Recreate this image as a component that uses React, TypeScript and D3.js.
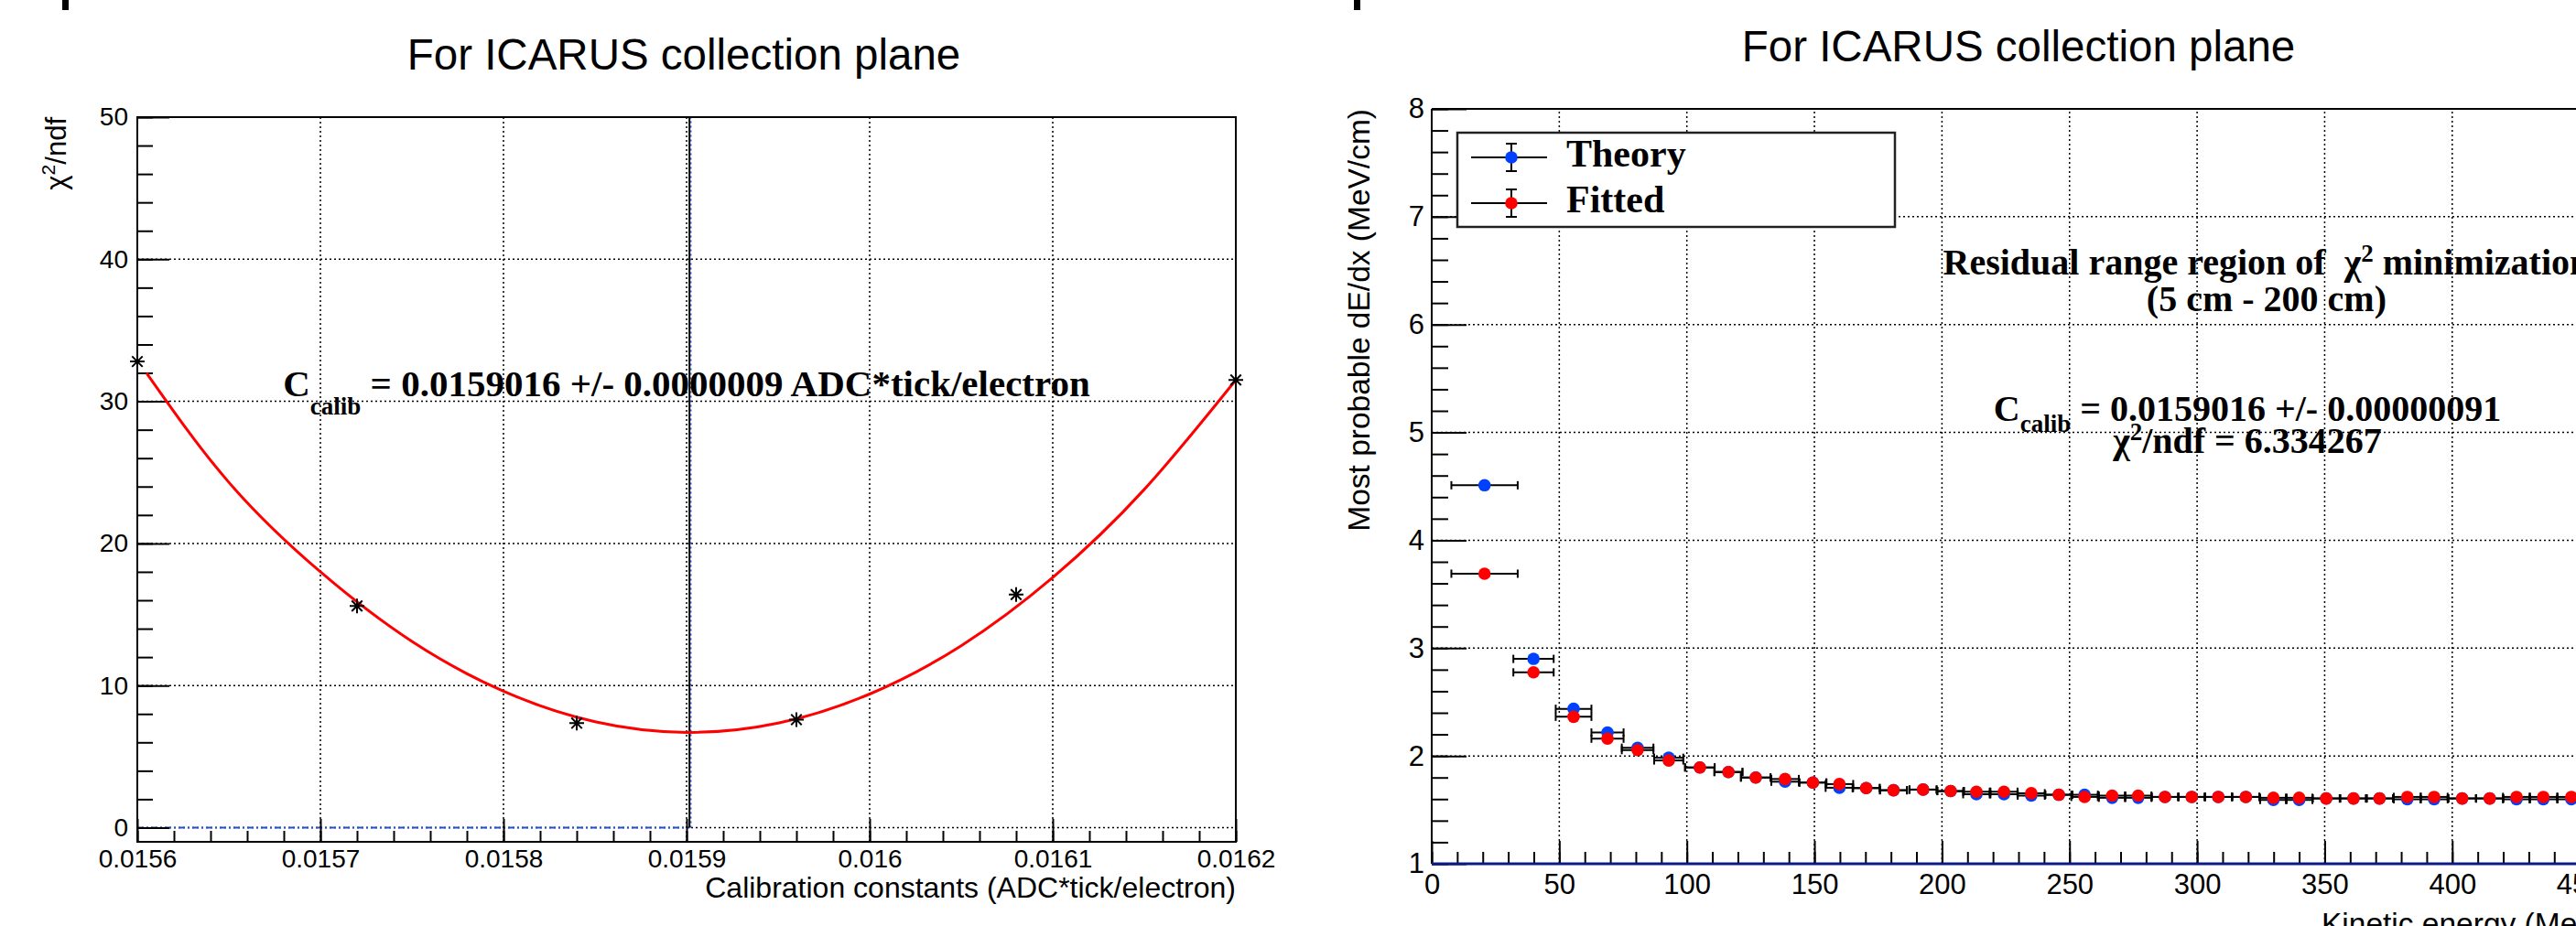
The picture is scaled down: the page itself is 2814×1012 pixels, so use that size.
import React, { useEffect, useRef } from 'react';
import * as d3 from 'd3';

const W = 2814;
const H = 1012;
const SANS = '"Liberation Sans", Arial, Helvetica, sans-serif';
const SERIF = '"Liberation Serif", "Times New Roman", serif';

// ---- left panel: chi2/ndf scan over calibration constant ----
const calibConsts = [0.0156, 0.01572, 0.01584, 0.01596, 0.01608, 0.0162];
const chi2Values = [32.8, 15.6, 7.35, 7.6, 16.4, 31.5];
// red fit curve
const fitX = [0.015605, 0.01565, 0.0157, 0.01575, 0.0158, 0.01585, 0.0159, 0.01595, 0.016, 0.01605, 0.0161, 0.01615, 0.0162];
const fitY = [32.0, 24.3, 18.0, 13.1, 9.6, 7.45, 6.7, 7.35, 9.4, 12.8, 17.6, 23.8, 31.5];
const bestCalib = 0.0159016;
const leftXTicks = [0.0156, 0.0157, 0.0158, 0.0159, 0.016, 0.0161, 0.0162];
const leftXLabels = ['0.0156', '0.0157', '0.0158', '0.0159', '0.016', '0.0161', '0.0162'];
const leftYTicks = [0, 10, 20, 30, 40, 50];

// ---- right panel: most probable dE/dx vs kinetic energy ----
const kineticEnergy = [20.7, 39.9, 55.6, 68.9, 80.7, 92.9, 105.1, 116.3, 127.0, 138.5, 149.4, 159.8, 170.3, 181.0,
  192.6, 203.4, 213.5, 224.3, 235.0, 245.8, 255.9, 266.7, 276.9, 287.4, 297.9, 308.3, 319.1, 329.9, 340.0,
  350.6, 361.3, 371.5, 382.4, 392.9, 403.9, 414.7, 425.2, 435.7, 446.7];
const energyErr = [13.0, 7.9, 7.0, 6.3, 6.2, 5.7, 5.8, 5.5, 5.8, 5.4, 5.3, 5.4, 5.3, 5.3,
  5.3, 5.2, 5.2, 5.3, 5.3, 5.3, 5.2, 5.2, 5.2, 5.2, 5.2, 5.3, 5.3, 5.2, 5.2,
  5.3, 5.2, 5.3, 5.3, 5.3, 5.4, 5.3, 5.3, 5.4, 5.4];
const theoryDEdx = [4.51, 2.90, 2.437, 2.217, 2.076, 1.983, 1.893, 1.851, 1.80, 1.761, 1.753, 1.705, 1.702, 1.682,
  1.688, 1.674, 1.645, 1.645, 1.632, 1.64, 1.64, 1.612, 1.612, 1.62, 1.62, 1.62, 1.62, 1.592, 1.592,
  1.606, 1.606, 1.606, 1.598, 1.598, 1.606, 1.606, 1.598, 1.598, 1.598];
const fittedDEdx = [3.69, 2.775, 2.363, 2.16, 2.054, 1.958, 1.893, 1.851, 1.80, 1.786, 1.753, 1.739, 1.702, 1.682,
  1.688, 1.674, 1.668, 1.668, 1.654, 1.64, 1.62, 1.632, 1.632, 1.62, 1.62, 1.62, 1.62, 1.612, 1.612,
  1.606, 1.606, 1.606, 1.62, 1.62, 1.606, 1.606, 1.62, 1.62, 1.62];
const rightXTicks = [0, 50, 100, 150, 200, 250, 300, 350, 400, 450];
const rightYTicks = [1, 2, 3, 4, 5, 6, 7, 8];
const legendLabels = ['Theory', 'Fitted'];
const seriesColors = ['#0040ff', '#ff0000'];

// scales
const xL = d3.scaleLinear().domain([0.0156, 0.0162]).range([150, 1350]);
const yL = d3.scaleLinear().domain([-1, 50]).range([920, 128]);
const xR = d3.scaleLinear().domain([0, 461]).range([1564, 2848.8]);
const yR = d3.scaleLinear().domain([1, 8]).range([944, 119]);

const starPath = (r: number) => {
  const d = r * 0.72;
  return `M${-r},0L${r},0M0,${-r}L0,${r}M${-d},${-d}L${d},${d}M${-d},${d}L${d},${-d}`;
};

const GRID = { stroke: '#000', strokeWidth: 1.5, strokeDasharray: '2 3' };

function App() {
  const lx = useRef<SVGGElement>(null);
  const lxm = useRef<SVGGElement>(null);
  const ly = useRef<SVGGElement>(null);
  const lym = useRef<SVGGElement>(null);
  const rx = useRef<SVGGElement>(null);
  const rxm = useRef<SVGGElement>(null);
  const ry = useRef<SVGGElement>(null);
  const rym = useRef<SVGGElement>(null);

  useEffect(() => {
    const finish = (sel: any, size: number) => {
      sel.select('.domain').remove();
      sel.attr('font-family', SANS).attr('font-size', size);
      sel.selectAll('.tick line').attr('stroke', '#000').attr('stroke-width', 2);
      sel.selectAll('.tick text').attr('fill', '#000');
    };
    const intFmt = d3.format('d');

    // left panel axes (ticks point inward, ROOT style)
    const gLx = d3.select(lx.current);
    gLx.call(d3.axisBottom(xL).tickValues(leftXTicks).tickSize(-25).tickPadding(8)
      .tickFormat((d, i) => leftXLabels[i]) as any);
    finish(gLx, 28);
    const gLxm = d3.select(lxm.current);
    gLxm.call(d3.axisBottom(xL).tickValues(d3.ticks(0.0156, 0.0162, 30)).tickSize(-12).tickFormat(() => '') as any);
    finish(gLxm, 28);

    const gLy = d3.select(ly.current);
    gLy.call(d3.axisLeft(yL).tickValues(leftYTicks).tickSize(-35).tickPadding(10).tickFormat(intFmt as any) as any);
    finish(gLy, 28);
    const gLym = d3.select(lym.current);
    gLym.call(d3.axisLeft(yL).tickValues(d3.range(0, 51, 2)).tickSize(-17).tickFormat(() => '') as any);
    finish(gLym, 28);

    // right panel axes
    const gRx = d3.select(rx.current);
    gRx.call(d3.axisBottom(xR).tickValues(rightXTicks).tickSize(-25).tickPadding(11).tickFormat(intFmt as any) as any);
    finish(gRx, 31);
    const gRxm = d3.select(rxm.current);
    gRxm.call(d3.axisBottom(xR).tickValues(d3.range(0, 461, 10)).tickSize(-13).tickFormat(() => '') as any);
    finish(gRxm, 31);

    const gRy = d3.select(ry.current);
    gRy.call(d3.axisLeft(yR).tickValues(rightYTicks).tickSize(-38).tickPadding(8).tickFormat(intFmt as any) as any);
    finish(gRy, 31);
    const gRym = d3.select(rym.current);
    gRym.call(d3.axisLeft(yR).tickValues(d3.ticks(1, 8, 35)).tickSize(-18).tickFormat(() => '') as any);
    finish(gRym, 31);
  }, []);

  const fitLine = d3.line<number>()
    .x((d, i) => xL(fitX[i]))
    .y(d => yL(d))
    .curve(d3.curveNatural);

  const series = [theoryDEdx, fittedDEdx];

  return (
    <svg width={W} height={H} style={{ position: 'absolute', left: 0, top: 0, background: '#fff' }}>
      <rect width={W} height={H} fill="#fff" />

      {/* small cut-off marks at the very top */}
      <rect x={68} y={0} width={7} height={11} fill="#000" />
      <rect x={1479} y={0} width={7} height={11} fill="#000" />

      {/* ================= LEFT PANEL ================= */}
      <text x={747} y={76} textAnchor="middle" fontFamily={SANS} fontSize={47.5}>For ICARUS collection plane</text>

      {/* grid */}
      {leftXTicks.map(t => (
        <line key={'lgx' + t} x1={xL(t)} x2={xL(t)} y1={yL(-1)} y2={yL(50)} {...GRID} />
      ))}
      {leftYTicks.map(t => (
        <line key={'lgy' + t} x1={xL(0.0156)} x2={xL(0.0162)} y1={yL(t)} y2={yL(t)} {...GRID} />
      ))}

      {/* best value markers */}
      <line x1={xL(0.0156)} x2={xL(bestCalib)} y1={yL(0)} y2={yL(0)} stroke="#2050d0" strokeWidth={2} strokeDasharray="7 3 2 3" />
      <line x1={xL(bestCalib)} x2={xL(bestCalib)} y1={yL(0)} y2={yL(50)} stroke="#000" strokeWidth={2} />
      <line x1={xL(bestCalib) + 1.5} x2={xL(bestCalib) + 1.5} y1={yL(0)} y2={yL(50)} stroke="#2050d0" strokeWidth={1.5} strokeDasharray="2 3" />

      <g ref={lxm} transform={`translate(0,${yL(-1)})`} />
      <g ref={lx} transform={`translate(0,${yL(-1)})`} />
      <g ref={lym} transform={`translate(${xL(0.0156)},0)`} />
      <g ref={ly} transform={`translate(${xL(0.0156)},0)`} />
      <rect x={xL(0.0156)} y={yL(50)} width={xL(0.0162) - xL(0.0156)} height={yL(-1) - yL(50)} fill="none" stroke="#000" strokeWidth={2} />

      {/* fit curve */}
      <path d={fitLine(fitY) || ''} fill="none" stroke="#ff0000" strokeWidth={3} />

      {/* scan points */}
      {calibConsts.map((c, i) => (
        <path key={'st' + i} transform={`translate(${xL(c)},${yL(chi2Values[i])})`} d={starPath(8)} stroke="#000" strokeWidth={2} fill="none" />
      ))}

      {/* annotation */}
      <text x={xL(0.0159)} y={yL(30.35)} textAnchor="middle" fontFamily={SERIF} fontWeight="bold" fontSize={41} style={{ whiteSpace: 'pre' }}>
        C<tspan fontSize={27} dy={20}>calib</tspan><tspan dy={-20}> = 0.0159016 +/- 0.0000009 ADC*tick/electron</tspan>
      </text>

      {/* axis titles */}
      <text x={xL(0.0162)} y={981} textAnchor="end" fontFamily={SANS} fontSize={32}>Calibration constants (ADC*tick/electron)</text>
      <text transform={`translate(72,${yL(50)}) rotate(-90)`} textAnchor="end" fontFamily={SANS} fontSize={31}>
        χ<tspan fontSize={21} dy={-12}>2</tspan><tspan dy={12}>/ndf</tspan>
      </text>

      {/* ================= RIGHT PANEL ================= */}
      <text x={2205} y={67} textAnchor="middle" fontFamily={SANS} fontSize={47.5}>For ICARUS collection plane</text>

      {rightXTicks.map(t => (
        <line key={'rgx' + t} x1={xR(t)} x2={xR(t)} y1={yR(1)} y2={yR(8)} {...GRID} />
      ))}
      {rightYTicks.map(t => (
        <line key={'rgy' + t} x1={xR(0)} x2={xR(461)} y1={yR(t)} y2={yR(t)} {...GRID} />
      ))}

      <g ref={rxm} transform={`translate(0,${yR(1)})`} />
      <g ref={rx} transform={`translate(0,${yR(1)})`} />
      <g ref={rym} transform={`translate(${xR(0)},0)`} />
      <g ref={ry} transform={`translate(${xR(0)},0)`} />
      <line x1={xR(0)} x2={xR(461)} y1={yR(8)} y2={yR(8)} stroke="#000" strokeWidth={2} />
      <line x1={xR(0)} x2={xR(0)} y1={yR(8)} y2={yR(1)} stroke="#000" strokeWidth={2} />
      <line x1={xR(461)} x2={xR(461)} y1={yR(8)} y2={yR(1)} stroke="#000" strokeWidth={2} />
      <line x1={xR(0)} x2={xR(461)} y1={yR(1)} y2={yR(1)} stroke="#0a1a8a" strokeWidth={3} />

      {/* data with horizontal error bars */}
      {series.map((vals, s) => (
        <g key={'ser' + s}>
          {vals.map((v, i) => {
            const x0 = xR(kineticEnergy[i] - energyErr[i]);
            const x1 = xR(kineticEnergy[i] + energyErr[i]);
            const y = yR(v);
            return (
              <g key={'eb' + i} stroke="#000" strokeWidth={2}>
                <line x1={x0} x2={x1} y1={y} y2={y} />
                <line x1={x0} x2={x0} y1={y - 4.5} y2={y + 4.5} />
                <line x1={x1} x2={x1} y1={y - 4.5} y2={y + 4.5} />
              </g>
            );
          })}
          {vals.map((v, i) => (
            <circle key={'pt' + i} cx={xR(kineticEnergy[i])} cy={yR(v)} r={6.8} fill={seriesColors[s]} />
          ))}
        </g>
      ))}

      {/* legend */}
      <rect x={1592} y={145} width={478} height={103} fill="#fff" stroke="#222" strokeWidth={2.5} />
      {legendLabels.map((lab, i) => {
        const cy = 172 + i * 50;
        return (
          <g key={'lg' + i}>
            <line x1={1607} x2={1690} y1={cy} y2={cy} stroke="#000" strokeWidth={2} />
            <line x1={1651} x2={1651} y1={cy - 15} y2={cy + 15} stroke="#000" strokeWidth={2} />
            <line x1={1645} x2={1657} y1={cy - 15} y2={cy - 15} stroke="#000" strokeWidth={2} />
            <line x1={1645} x2={1657} y1={cy + 15} y2={cy + 15} stroke="#000" strokeWidth={2} />
            <circle cx={1651} cy={cy} r={6.8} fill={seriesColors[i]} />
            <text x={1711} y={cy + 10} fontFamily={SERIF} fontWeight="bold" fontSize={42}>{lab}</text>
          </g>
        );
      })}

      {/* annotations */}
      <g fontFamily={SERIF} fontWeight="bold" fontSize={40} textAnchor="middle" style={{ whiteSpace: 'pre' }}>
        <text x={xR(327.2)} y={yR(6.464)} xmlSpace="preserve">
          Residual range region of  χ<tspan fontSize={27} dy={-14}>2</tspan><tspan dy={14}> minimization</tspan>
        </text>
        <text x={xR(327.2)} y={yR(6.125)}>(5 cm - 200 cm)</text>
        <text x={xR(319.7)} y={yR(5.107)}>
          C<tspan fontSize={27} dy={12}>calib</tspan><tspan dy={-12}> = 0.0159016 +/- 0.00000091</tspan>
        </text>
        <text x={xR(319.7)} y={yR(4.81)}>
          χ<tspan fontSize={27} dy={-14}>2</tspan><tspan dy={14}>/ndf = 6.334267</tspan>
        </text>
      </g>

      {/* axis titles */}
      <text x={xR(461)} y={1021} textAnchor="end" fontFamily={SANS} fontSize={33.5}>Kinetic energy (MeV)</text>
      <text transform={`translate(1496,${yR(8)}) rotate(-90)`} textAnchor="end" fontFamily={SANS} fontSize={33.5}>Most probable dE/dx (MeV/cm)</text>
    </svg>
  );
}

export default App;
